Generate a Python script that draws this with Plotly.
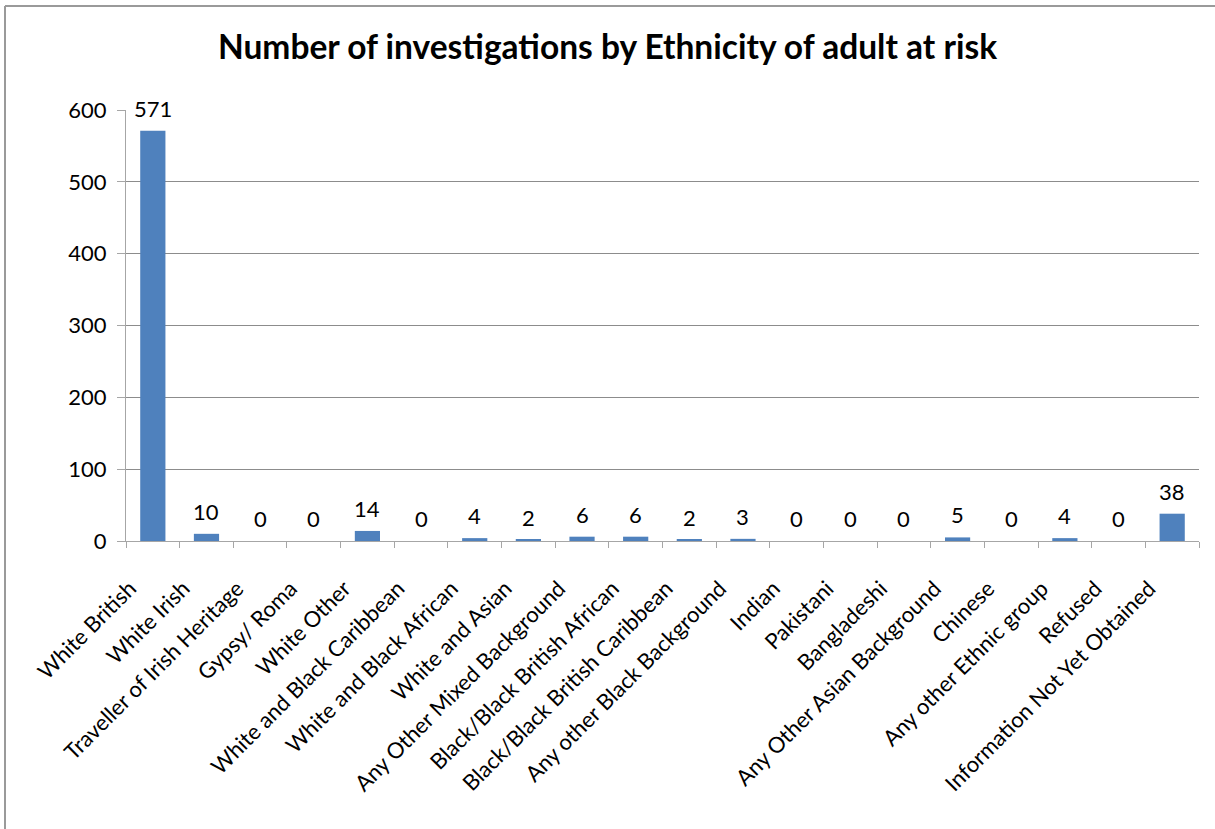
import plotly.graph_objects as go

categories = [
    "White British", "White Irish", "Traveller of Irish Heritage", "Gypsy/ Roma",
    "White Other", "White and Black Caribbean", "White and Black African",
    "White and Asian", "Any Other Mixed Background", "Black/Black British African",
    "Black/Black British Caribbean", "Any other Black Background", "Indian",
    "Pakistani", "Bangladeshi", "Any Other Asian Background", "Chinese",
    "Any other Ethnic group", "Refused", "Information Not Yet Obtained",
]
investigations = [571, 10, 0, 0, 14, 0, 4, 2, 6, 6, 2, 3, 0, 0, 0, 5, 0, 4, 0, 38]
y_ticks = [0, 100, 200, 300, 400, 500, 600]

FONT = "Lato"
GRID = "#8c8c8c"
AXIS = "#a6a6a6"

fig = go.Figure(
    go.Bar(
        x=categories,
        y=investigations,
        marker=dict(color="#4F81BD", line=dict(width=0)),
        cliponaxis=False,
    )
)

# value labels sitting above each bar
for cat, val in zip(categories, investigations):
    fig.add_annotation(
        x=cat, y=val, xref="x", yref="y",
        text=str(val), showarrow=False,
        yanchor="bottom", yshift=7,
        font=dict(family=FONT, size=22, color="black"),
    )

W, H = 1215, 829
left, right, top, bottom = 126, 16, 110, 288
pw, ph = W - left - right, H - top - bottom

border = dict(color="#9a9a9a", width=2)

fig.update_layout(
    width=W, height=H,
    margin=dict(l=left, r=right, t=top, b=bottom),
    paper_bgcolor="white", plot_bgcolor="white",
    bargap=0.53,
    showlegend=False,
    font=dict(family=FONT, color="black"),
    title=dict(
        text="<b>Number of investigations by Ethnicity of adult at risk</b>",
        x=0.5, xref="container", xanchor="center",
        y=1 - 47 / H, yref="container", yanchor="middle",
        font=dict(family=FONT, size=33.5, color="black"),
    ),
    xaxis=dict(
        tickangle=-45,
        tickfont=dict(family=FONT, size=22),
        showline=True, linecolor=AXIS, linewidth=1,
        ticks="outside", ticklen=6, tickcolor=AXIS, tickson="boundaries",
        showgrid=False,
        ticklabelstandoff=25, ticklabelshift=-23,
    ),
    yaxis=dict(
        range=[0, 600], tickvals=y_ticks,
        tickfont=dict(family=FONT, size=22),
        showline=True, linecolor=AXIS, linewidth=1,
        ticks="outside", ticklen=8, tickcolor=AXIS,
        showgrid=True, gridcolor=GRID, gridwidth=1,
        zeroline=False,
        ticklabelstandoff=6,
    ),
    shapes=[
        # chart frame: left and top edges
        dict(type="line", xref="paper", yref="paper",
             x0=(5 - left) / pw, x1=(5 - left) / pw,
             y0=-bottom / ph - 0.1, y1=(H - bottom - 6) / ph, line=border),
        dict(type="line", xref="paper", yref="paper",
             x0=(5 - left) / pw, x1=1 + 60 / pw,
             y0=(H - bottom - 6) / ph, y1=(H - bottom - 6) / ph, line=border),
    ],
)

fig.write_html("out.html")
